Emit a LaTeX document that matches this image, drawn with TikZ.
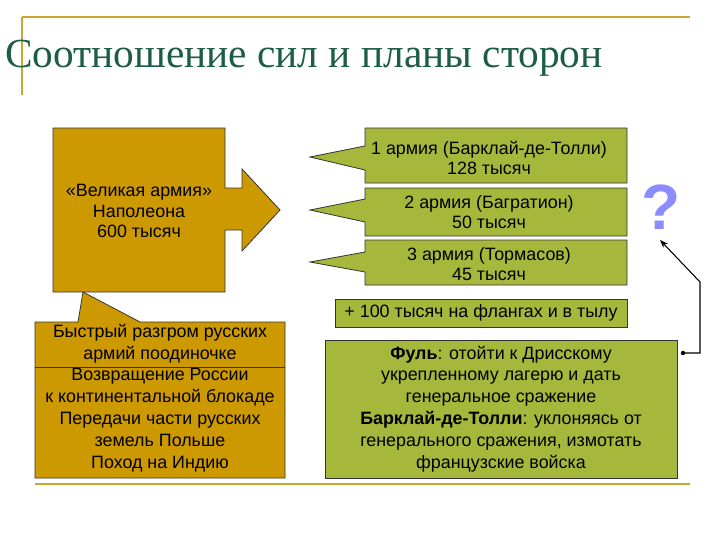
\documentclass[tikz,border=0pt]{standalone}
\usepackage{fontspec}
\setmainfont{Liberation Sans}
\newfontfamily\titlefont{Liberation Serif}
\usetikzlibrary{arrows.meta}
\definecolor{gold}{HTML}{CC9900}
\definecolor{olive}{HTML}{A6B83C}
\definecolor{rule}{HTML}{C8A832}
\definecolor{ttl}{HTML}{1B5E45}
\begin{document}
\begin{tikzpicture}[x=0.75pt,y=-0.75pt,
  goldshape/.style={fill=gold,draw=black!80,line width=0.6pt},
  greenshape/.style={fill=olive,draw=black!80,line width=0.6pt},
  txt/.style={font=\fontsize{13.4pt}{15.5pt}\selectfont,align=center,inner sep=0pt}]
\useasboundingbox (0,0) rectangle (720,540);
\fill[white] (0,0) rectangle (720,540);
\draw[rule,line width=1.5pt] (22,17) -- (690,17);
\draw[rule,line width=1.5pt] (22,17) -- (22,95);
\draw[rule,line width=1.5pt] (35,484) -- (690,484);
\node[anchor=base west,inner sep=0pt,text=ttl,font=\titlefont\fontsize{31pt}{33pt}\selectfont] (title) at (5,67) {Соотношение сил и планы сторон};
% big arrow box
\draw[goldshape] (53,128) -- (225,128) -- (225,188) -- (242,188) -- (242,169) -- (280,210) -- (242,251) -- (242,230) -- (225,230) -- (225,292) -- (53,292) -- cycle;
\node[txt] (napo) at (139,211) {«Великая армия»\\Наполеона\\600 тысяч};
% callout
\draw[goldshape] (35,322) -- (78,322) -- (83,292) -- (140,322) -- (285,322) -- (285,478) -- (35,478) -- cycle;
\draw[black!80,line width=0.6pt] (35,367) -- (285,367);
\node[txt,font=\fontsize{13.4pt}{16.4pt}\selectfont] (plan) at (160,398) {Быстрый разгром русских\\армий поодиночке\\Возвращение России\\к континентальной блокаде\\Передачи части русских\\земель Польше\\Поход на Индию};
% green callouts
\draw[greenshape] (365,128) -- (627,128) -- (627,183) -- (365,183) -- (365,170) -- (310,157) -- (365,146) -- cycle;
\node[txt] (a1) at (489,158) {1 армия (Барклай-де-Толли)\\128 тысяч};
\draw[greenshape] (365,188) -- (627,188) -- (627,236) -- (365,236) -- (365,222) -- (310,210) -- (365,199) -- cycle;
\node[txt] (a2) at (489,212) {2 армия (Багратион)\\50 тысяч};
\draw[greenshape] (365,240) -- (627,240) -- (627,285) -- (365,285) -- (365,272) -- (310,262) -- (365,252) -- cycle;
\node[txt] (a3) at (489,264) {3 армия (Тормасов)\\45 тысяч};
\node[greenshape,txt,minimum width=292*0.75pt,minimum height=28*0.75pt] (flank) at (481,313) {+ 100 тысяч на флангах и в тылу};
\node[greenshape,txt,minimum width=352*0.75pt,minimum height=138*0.75pt,font=\fontsize{13.4pt}{16.4pt}\selectfont] (fuhl) at (501,409) {\textbf{Фуль}: отойти к Дрисскому\\укрепленному лагерю и дать\\генеральное сражение\\\textbf{Барклай-де-Толли}: уклоняясь от\\генерального сражения, измотать\\французские войска};
\node[font=\fontsize{48pt}{48pt}\selectfont\bfseries,text=blue!45!white,inner sep=0pt] (q) at (661,207) {?};
\coordinate (c1) at (700,353);
\coordinate (c2) at (700,282);
\draw[line width=0.8pt,-{Stealth[length=6pt]}] (683,353) -- (c1) -- (c2) -- (660,240);
\fill (683,353) circle (2.2);
\end{tikzpicture}
\end{document}
